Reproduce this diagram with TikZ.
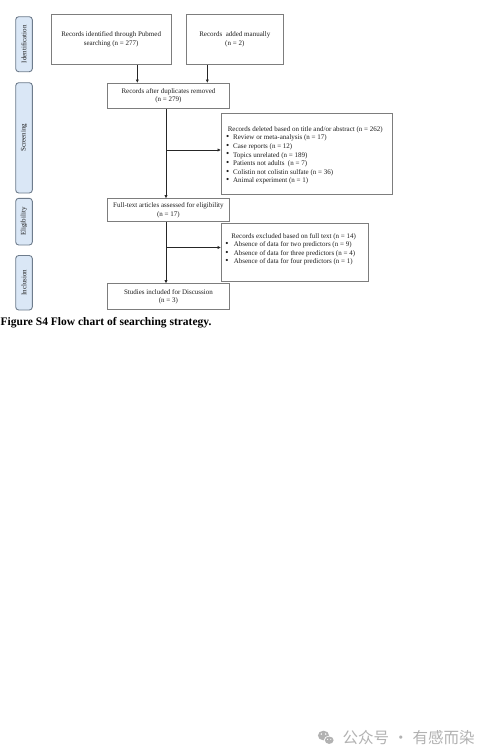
\documentclass[tikz,border=0pt]{standalone}
\usepackage{fontspec}
\usepackage{graphicx}
\setmainfont{Liberation Serif}
\newfontfamily\cjk{Noto Sans CJK SC}
\usetikzlibrary{arrows.meta}
\definecolor{boxline}{RGB}{125,125,125}
\definecolor{sidefill}{RGB}{218,231,246}
\definecolor{sideline}{RGB}{110,124,140}
\definecolor{txt}{RGB}{30,30,30}
\definecolor{wm}{RGB}{178,178,178}
\newcommand\bul[1]{\makebox[#1][l]{\raisebox{0.1pt}{\scalebox{1.3}{\textbullet}}}}
\begin{document}
\begin{tikzpicture}[x=1pt,y=-1pt,
  every node/.style={font=\fontsize{7}{8.6}\selectfont, text=txt},
  flowbox/.style={draw=boxline, line width=0.9pt, inner sep=0pt, align=center, anchor=north west},
  sidebox/.style={draw=sideline, fill=sidefill, rounded corners=3pt, line width=0.9pt, inner sep=0pt, rotate=90, minimum height=16.6pt},
  arr/.style={draw=black!85, line width=0.7pt, -{Triangle[length=3.2pt,width=2.8pt]}}
]
\useasboundingbox[fill=white] (0,0) rectangle (479,753);

% side labels
\node[sidebox, minimum width=55pt] (sid) at (24,44.2) {Identification};
\node[sidebox, minimum width=110.3pt] (sscr) at (24,137.85) {Screening};
\node[sidebox, minimum width=46.7pt] (selig) at (24,221.65) {Eligibility};
\node[sidebox, minimum width=54.5pt] (sinc) at (24,282.75) {Inclusion};

% flow boxes
\node[flowbox, minimum width=120pt, minimum height=50pt] (b1) at (50.7,14) {Records identified through Pubmed\\searching (n = 277)};
\node[flowbox, minimum width=96.7pt, minimum height=50pt] (b2) at (186,14) {Records\ \ added manually\\(n = 2)};
\node[flowbox, minimum width=122.6pt, minimum height=25.6pt] (b3) at (106.7,82.7) {Records after duplicates removed\\(n = 279)};
\node[flowbox, minimum width=122.6pt, minimum height=22.7pt] (b4) at (106.7,198.3) {Full-text articles assessed for eligibility\\(n = 17)};
\node[flowbox, minimum width=122.6pt, minimum height=25.7pt] (b6) at (106.7,283.3) {Studies included for Discussion\\(n = 3)};

\node[flowbox] (b5) at (220.7,113.3) {\parbox[c][80.7pt][t]{171.6pt}{\vspace*{12.6pt}%
\hspace*{6.6pt}Records deleted based on title and/or abstract (n = 262)\\
\hspace*{5pt}\bul{7pt}Review or meta-analysis (n = 17)\\
\hspace*{5pt}\bul{7pt}Case reports (n = 12)\\
\hspace*{5pt}\bul{7pt}Topics unrelated (n = 189)\\
\hspace*{5pt}\bul{7pt}Patients not adults\ \ (n = 7)\\
\hspace*{5pt}\bul{7pt}Colistin not colistin sulfate (n = 36)\\
\hspace*{5pt}\bul{7pt}Animal experiment (n = 1)}};

\node[flowbox] (b7) at (220.7,223.3) {\parbox[c][57.4pt][t]{147.6pt}{\vspace*{9.4pt}%
\hspace*{10.3pt}Records excluded based on full text (n = 14)\\
\hspace*{4.3pt}\bul{8.3pt}Absence of data for two predictors (n = 9)\\
\hspace*{4.3pt}\bul{8.3pt}Absence of data for three predictors (n = 4)\\
\hspace*{4.3pt}\bul{8.3pt}Absence of data for four predictors (n = 1)}};

% connectors
\coordinate (a1) at (137.3,0);
\coordinate (a2) at (207.3,0);
\coordinate (vx) at (166,0);
\coordinate (j1) at (166,150);
\coordinate (j2) at (166,247.5);
\draw[arr] (b1.south -| a1) -- (b3.north -| a1);
\draw[arr] (b2.south -| a2) -- (b3.north -| a2);
\draw[arr] (b3.south -| vx) -- (b4.north -| vx);
\draw[arr] (j1) -- (j1 -| b5.west);
\draw[arr] (b4.south -| vx) -- (b6.north -| vx);
\draw[arr] (j2) -- (j2 -| b7.west);

% caption
\node[anchor=base west, font=\fontsize{11.5}{13}\selectfont\bfseries, text=black, inner sep=0pt] (cap) at (0.5,325) {Figure S4 Flow chart of searching strategy.};

% watermark
\fill[wm] (323.5,735.5) ellipse [x radius=5.6pt, y radius=4.8pt];
\fill[white] (329.2,740.2) ellipse [x radius=5.3pt, y radius=4.5pt];
\fill[wm] (329.2,740.2) ellipse [x radius=4.4pt, y radius=3.7pt];
\fill[white] (321.3,734) circle [radius=0.8pt];
\fill[white] (325.7,734) circle [radius=0.8pt];
\fill[white] (327.6,739.3) circle [radius=0.6pt];
\fill[white] (330.8,739.3) circle [radius=0.6pt];
\node[anchor=west, font=\cjk\fontsize{15.5}{16}\selectfont, text=wm, inner sep=0pt] (wmt) at (342.5,737.7) {公众号\hspace{4pt}·\hspace{4pt}有感而染};
\end{tikzpicture}
\end{document}
